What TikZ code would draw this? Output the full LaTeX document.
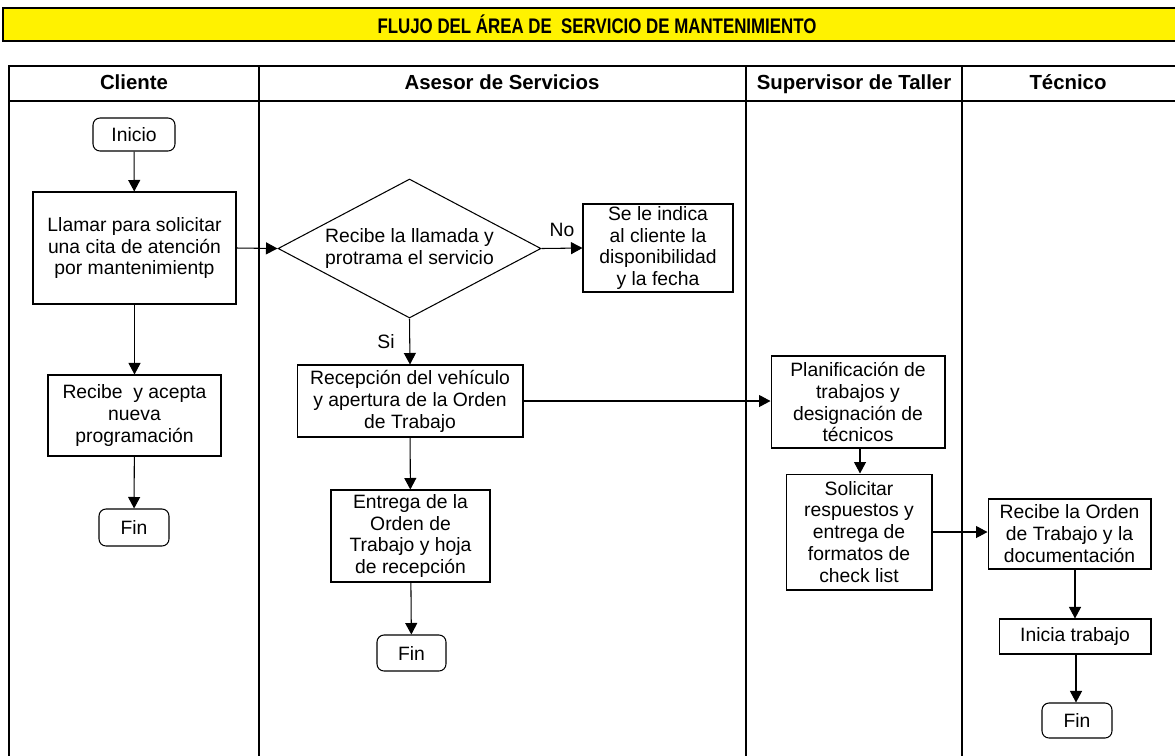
\documentclass[tikz,border=0pt]{standalone}
\usepackage{fontspec}
\setmainfont{Liberation Sans}
\usetikzlibrary{arrows.meta,shapes.geometric}

\begin{document}
\begin{tikzpicture}[x=0.02cm,y=-0.02cm,
  box/.style={draw,line width=0.6pt,align=center,inner sep=1pt,font=\fontsize{11}{12.5}\selectfont},
  term/.style={box,rounded corners=4pt},
  flow/.style={-{Triangle[length=0.23cm,width=0.24cm]},line width=0.6pt},
  lane/.style={line width=1.3pt},
  head/.style={anchor=base,font=\fontsize{11.6}{13}\selectfont\bfseries}]
\useasboundingbox (0,0) rectangle (1175,755);
\clip (0,0) rectangle (1175,755);

% Title bar
\draw[lane,fill=yellow] (3,8) rectangle (1190,41);
\node[font=\fontsize{12}{14}\selectfont\bfseries] (title) at (597,24.5) {\scalebox{0.8}[1]{FLUJO DEL ÁREA DE\ \ SERVICIO DE MANTENIMIENTO}};

% Lanes
\draw[lane] (9,66) rectangle (1190,770);
\draw[lane] (9,101) -- (1190,101);
\draw[lane] (259,66) -- (259,770);
\draw[lane] (746,66) -- (746,770);
\draw[lane] (962,66) -- (962,770);
\node[head] (hcli) at (134,89) {Cliente};
\node[head] (hase) at (502,89) {Asesor de Servicios};
\node[head] (hsup) at (854,89) {Supervisor de Taller};
\node[head] (htec) at (1068,89) {Técnico};

% Cliente
\node[term,minimum width=1.64cm,minimum height=0.66cm] (inicio) at (134,134.5) {Inicio};
\node[box,minimum width=4.06cm,minimum height=2.24cm] (llamar) at (134.5,248) {Llamar para solicitar\\una cita de atención\\por mantenimientp};
\node[box,minimum width=3.46cm,minimum height=1.62cm] (acepta) at (134.5,415.5) {Recibe\ \ y acepta\\nueva\\programación};
\node[term,minimum width=1.4cm,minimum height=0.74cm] (finA) at (134,527.5) {Fin};

% Asesor de Servicios
\node[box,diamond,aspect=1.9,inner sep=0pt,minimum width=5.26cm,minimum height=2.78cm] (llamada) at (409.5,248.5) {Recibe la llamada y\\protrama el servicio};
\node[box,minimum width=3cm,minimum height=1.76cm] (indica) at (658,248) {Se le indica\\al cliente la\\disponibilidad\\y la fecha};
\node[box,minimum width=4.52cm,minimum height=1.44cm] (recep) at (410,401) {Recepción del vehículo\\y apertura de la Orden\\de Trabajo};
\node[box,minimum width=3.18cm,minimum height=1.84cm] (entrega) at (410.5,536) {Entrega de la\\Orden de\\Trabajo y hoja\\de recepción};
\node[term,minimum width=1.38cm,minimum height=0.72cm] (finB) at (411.5,653) {Fin};

% Supervisor de Taller
\node[box,minimum width=3.48cm,minimum height=1.84cm] (planif) at (858,402) {Planificación de\\trabajos y\\designación de\\técnicos};
\node[box,minimum width=2.92cm,minimum height=2.32cm] (solic) at (859,532) {Solicitar\\respuestos y\\entrega de\\formatos de\\check list};

% Tecnico
\node[box,minimum width=3.26cm,minimum height=1.4cm] (orden) at (1069.5,534) {Recibe la Orden\\de Trabajo y la\\documentación};
\node[box,minimum width=3.04cm,minimum height=0.7cm] (inicia) at (1075,636.5) {Inicia trabajo};
\node[term,minimum width=1.4cm,minimum height=0.7cm] (finD) at (1077,720.5) {Fin};

% Arrows
\draw[flow] (inicio) -- (llamar);
\draw[flow] (llamar) -- (acepta);
\draw[flow] (acepta) -- (finA);
\draw[flow] (llamar.east) -- (llamada.west);
\draw[flow] (llamada.east) -- node[above=3pt,font=\fontsize{11}{12.5}\selectfont] (no) {No} (indica.west);
\draw[flow] (llamada.south) -- node[left=5pt,font=\fontsize{11}{12.5}\selectfont] (si) {Si} (recep.north);
\draw[flow] (recep) -- (entrega);
\draw[flow] (entrega) -- (finB);
\draw[flow] (recep.east) -- (recep.east -| planif.west);
\draw[flow] (planif.south -| 860,0) -- (solic.north -| 860,0);
\draw[flow] (solic.east) -- (solic.east -| orden.west);
\draw[flow] (orden.south -| inicia) -- (inicia.north);
\draw[flow] (inicia.south -| 1076,0) -- (finD.north -| 1076,0);
\end{tikzpicture}
\end{document}
